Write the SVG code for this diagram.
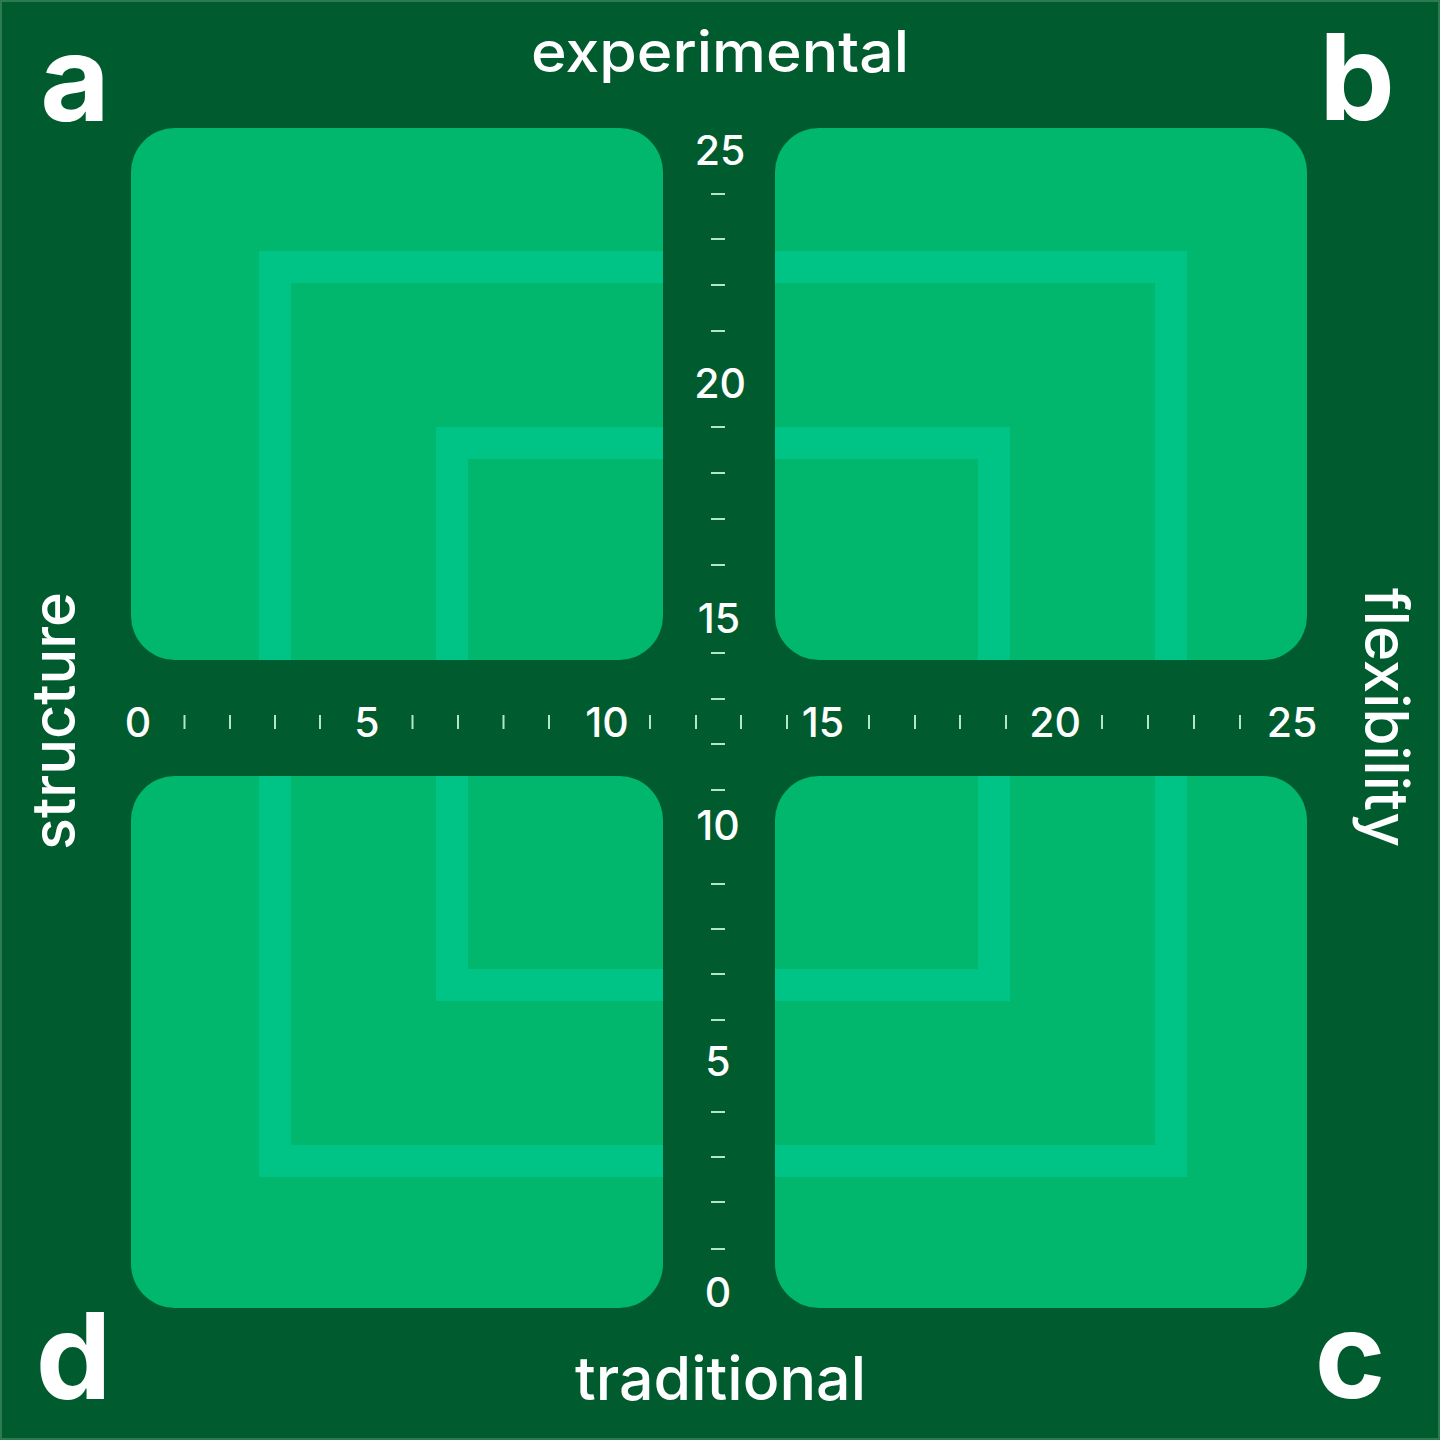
<svg xmlns="http://www.w3.org/2000/svg" width="1440" height="1440" viewBox="0 0 1440 1440">
  <defs>
    <style>
      .box { fill: #00b76d; }
      .sq { fill: none; stroke: #00c485; stroke-width: 32; }
      .word { fill: #ffffff; font-family: "Inter", "Liberation Sans", sans-serif; font-weight: 500; text-anchor: middle; }
      .corner { fill: #ffffff; font-family: "Inter", "Liberation Sans", sans-serif; font-weight: 700; font-size: 120px; text-anchor: middle; }
      .num { fill: #ffffff; font-family: "Inter", "Liberation Sans", sans-serif; font-weight: 500; font-size: 41px; text-anchor: middle; }
      .tick { stroke: #b2e5c9; stroke-width: 2; fill: none; }
    </style>
    <clipPath id="boxclip">
      <rect x="131" y="128" width="532" height="532" rx="44"/>
      <rect x="775" y="128" width="532" height="532" rx="44"/>
      <rect x="131" y="776" width="532" height="532" rx="44"/>
      <rect x="775" y="776" width="532" height="532" rx="44"/>
    </clipPath>
  </defs>

  <rect x="0" y="0" width="1440" height="1440" fill="#005c2e"/>
  <rect x="1" y="1" width="1438" height="1438" fill="none" stroke="#2e7b50" stroke-width="2"/>

  <g id="quadrant-a"><rect class="box" x="131" y="128" width="532" height="532" rx="44"/></g>
  <g id="quadrant-b"><rect class="box" x="775" y="128" width="532" height="532" rx="44"/></g>
  <g id="quadrant-d"><rect class="box" x="131" y="776" width="532" height="532" rx="44"/></g>
  <g id="quadrant-c"><rect class="box" x="775" y="776" width="532" height="532" rx="44"/></g>

  <g id="squares" clip-path="url(#boxclip)">
    <rect class="sq" x="275" y="267" width="896" height="894"/>
    <rect class="sq" x="452" y="443" width="542" height="542"/>
  </g>

  <g id="connectors">
    <g id="x-axis-ticks" class="tick">
      <line x1="184.5" y1="715" x2="184.5" y2="729"/>
      <line x1="230" y1="715" x2="230" y2="729"/>
      <line x1="275" y1="715" x2="275" y2="729"/>
      <line x1="320" y1="715" x2="320" y2="729"/>
      <line x1="412.5" y1="715" x2="412.5" y2="729"/>
      <line x1="458" y1="715" x2="458" y2="729"/>
      <line x1="503.5" y1="715" x2="503.5" y2="729"/>
      <line x1="549" y1="715" x2="549" y2="729"/>
      <line x1="650" y1="715" x2="650" y2="729"/>
      <line x1="696" y1="715" x2="696" y2="729"/>
      <line x1="741" y1="715" x2="741" y2="729"/>
      <line x1="787" y1="715" x2="787" y2="729"/>
      <line x1="869" y1="715" x2="869" y2="729"/>
      <line x1="915" y1="715" x2="915" y2="729"/>
      <line x1="960" y1="715" x2="960" y2="729"/>
      <line x1="1006" y1="715" x2="1006" y2="729"/>
      <line x1="1102" y1="715" x2="1102" y2="729"/>
      <line x1="1148" y1="715" x2="1148" y2="729"/>
      <line x1="1194" y1="715" x2="1194" y2="729"/>
      <line x1="1240" y1="715" x2="1240" y2="729"/>
    </g>
    <g id="y-axis-ticks" class="tick">
      <line x1="711" y1="194" x2="725" y2="194"/>
      <line x1="711" y1="239" x2="725" y2="239"/>
      <line x1="711" y1="285" x2="725" y2="285"/>
      <line x1="711" y1="331" x2="725" y2="331"/>
      <line x1="711" y1="427" x2="725" y2="427"/>
      <line x1="711" y1="473" x2="725" y2="473"/>
      <line x1="711" y1="519" x2="725" y2="519"/>
      <line x1="711" y1="565" x2="725" y2="565"/>
      <line x1="711" y1="653" x2="725" y2="653"/>
      <line x1="711" y1="699" x2="725" y2="699"/>
      <line x1="711" y1="744" x2="725" y2="744"/>
      <line x1="711" y1="790" x2="725" y2="790"/>
      <line x1="711" y1="884" x2="725" y2="884"/>
      <line x1="711" y1="929" x2="725" y2="929"/>
      <line x1="711" y1="974" x2="725" y2="974"/>
      <line x1="711" y1="1020" x2="725" y2="1020"/>
      <line x1="711" y1="1112" x2="725" y2="1112"/>
      <line x1="711" y1="1157" x2="725" y2="1157"/>
      <line x1="711" y1="1202" x2="725" y2="1202"/>
      <line x1="711" y1="1249" x2="725" y2="1249"/>
    </g>
  </g>

  <g id="x-axis-labels">
    <text class="num" x="138" y="737">0</text>
    <text class="num" x="367" y="737">5</text>
    <text class="num" x="607" y="737">10</text>
    <text class="num" x="823" y="737">15</text>
    <text class="num" x="1055" y="737">20</text>
    <text class="num" x="1292" y="737">25</text>
  </g>
  <g id="y-axis-labels">
    <text class="num" x="720" y="165">25</text>
    <text class="num" x="720" y="398">20</text>
    <text class="num" x="719" y="633">15</text>
    <text class="num" x="718" y="840">10</text>
    <text class="num" x="718" y="1076">5</text>
    <text class="num" x="718" y="1307">0</text>
  </g>

  <g id="axis-titles">
    <text class="word" x="720" y="72" font-size="57" textLength="378" lengthAdjust="spacingAndGlyphs">experimental</text>
    <text class="word" x="720.5" y="1400" font-size="60" textLength="291" lengthAdjust="spacingAndGlyphs">traditional</text>
    <text class="word" font-size="60" textLength="258" lengthAdjust="spacingAndGlyphs" transform="translate(75,721) rotate(-90)">structure</text>
    <text class="word" font-size="60" textLength="259" lengthAdjust="spacingAndGlyphs" transform="translate(1365,717.5) rotate(90)">flexibility</text>
  </g>

  <g id="corner-labels">
    <text class="corner" x="75" y="121">a</text>
    <text class="corner" x="1357" y="120">b</text>
    <text class="corner" x="1350" y="1398">c</text>
    <text class="corner" x="73.5" y="1399">d</text>
  </g>
</svg>
